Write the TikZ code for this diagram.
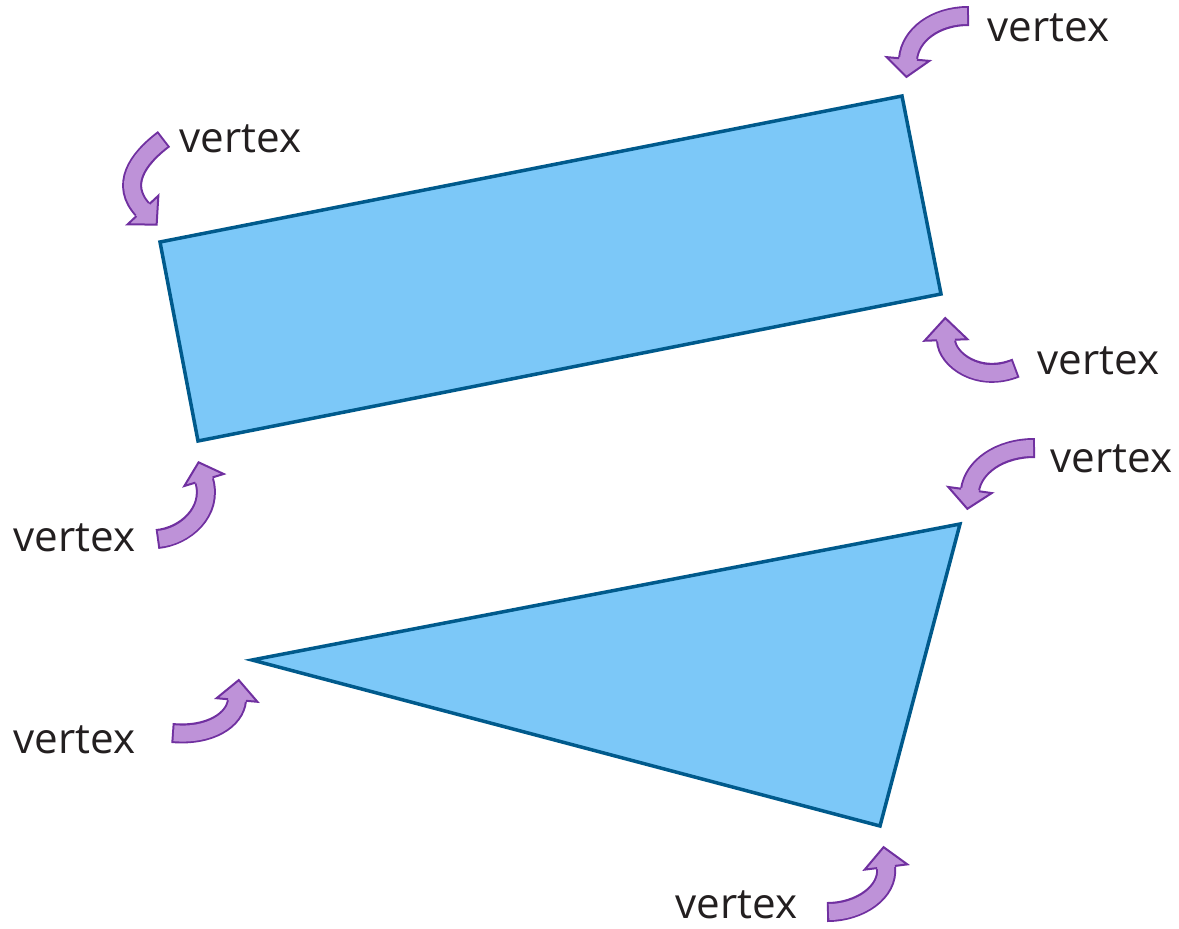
\documentclass[tikz,border=0pt]{standalone}
\usepackage{fontspec}
\setmainfont{Open Sans}
\usetikzlibrary{calc}
\definecolor{shapefill}{RGB}{124,200,248}
\definecolor{shapeline}{RGB}{0,90,140}
\definecolor{arrfill}{RGB}{190,146,216}
\definecolor{arrline}{RGB}{112,48,160}
\definecolor{txt}{RGB}{35,31,32}
\tikzset{
  polyshape/.style={fill=shapefill,draw=shapeline,line width=0.07cm,line join=miter},
  arrowout/.style={draw=arrline,line width=0.4cm},
  arrowin/.style={draw=arrfill,line width=0.32cm,shorten <=0.04cm},
  arrowedge/.style={draw=arrline,line width=0.04cm,line join=miter},
  lbl/.style={anchor=base west,inner sep=0pt,text=txt,font=\fontsize{24pt}{28pt}\selectfont}
}
% #1 tail point, #2 tail heading, #3 tail control length,
% #4 head base point, #5 head heading, #6 head control length,
% #7 head half width, #8 head length
\newcommand\carrow[8]{%
  \draw[arrowout] #1 .. controls ($#1+(#2:#3)$) and ($#4+(#5+180:#6)$) .. #4;
  \draw[arrowin] #1 .. controls ($#1+(#2:#3)$) and ($#4+(#5+180:#6)$) .. #4;
  \fill[arrfill] ($#4+(#5+90:#7)$) -- ($#4+(#5:#8)$) -- ($#4+(#5-90:#7)$) -- ($#4+(#5-90:8)+(#5+180:1)$) -- ($#4+(#5+90:8)+(#5+180:1)$) -- cycle;
  \draw[arrowedge] ($#4+(#5+90:9)$) -- ($#4+(#5+90:#7)$) -- ($#4+(#5:#8)$) -- ($#4+(#5-90:#7)$) -- ($#4+(#5-90:9)$);
}
\begin{document}
\begin{tikzpicture}[x=0.02cm,y=0.02cm]
\useasboundingbox (0,0) rectangle (1179,-929);
% rectangle
\coordinate (r1) at (160,-242);
\coordinate (r2) at (902,-96);
\coordinate (r3) at (941,-294);
\coordinate (r4) at (198,-441);
\draw[polyshape] (r1) -- (r2) -- (r3) -- (r4) -- cycle;
% triangle
\coordinate (t1) at (252,-660);
\coordinate (t2) at (960,-524);
\coordinate (t3) at (880,-826);
\draw[polyshape] (t1) -- (t2) -- (t3) -- cycle;
% arrows
\carrow{(969,-16)}{180}{34}{(908,-59)}{265}{24}{21.5}{18}
\carrow{(164,-139)}{217}{34}{(143,-210)}{313}{34}{21}{20}
\carrow{(1016,-368)}{202}{40}{(946,-340)}{92}{20}{21.5}{22}
\carrow{(157,-539)}{5}{28}{(204,-480)}{107}{33}{20.6}{18.5}
\carrow{(1035,-448)}{180}{36}{(970,-490)}{262}{23}{22}{19}
\carrow{(172,-733)}{-5}{38}{(237,-700)}{85}{20}{20.5}{20}
\carrow{(827,-912)}{0}{33}{(886,-867)}{97}{25}{21.5}{20}
% labels
\node[lbl] (v1) at (987,-42) {vertex};
\node[lbl] (v2) at (179,-153) {vertex};
\node[lbl] (v3) at (1037,-374) {vertex};
\node[lbl] (v4) at (13,-551) {vertex};
\node[lbl] (v5) at (1050,-472) {vertex};
\node[lbl] (v6) at (13,-753) {vertex};
\node[lbl] (v7) at (675,-918) {vertex};
\end{tikzpicture}
\end{document}
